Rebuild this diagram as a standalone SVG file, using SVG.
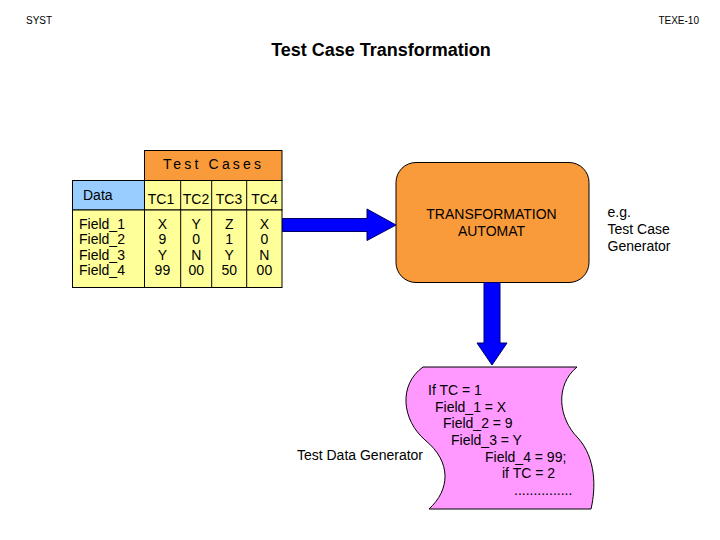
<svg xmlns="http://www.w3.org/2000/svg" width="720" height="540" viewBox="0 0 720 540">
<style>
text{font-family:"Liberation Sans",Arial,sans-serif;fill:#000}
.s{font-size:14px}
.m{text-anchor:middle}
.cell{stroke:#000;stroke-width:1}
.arrow{fill:#0000FF;stroke:#000066;stroke-width:1}
</style>
<rect width="720" height="540" fill="#fff"/>
<text x="26" y="24" font-size="10">SYST</text>
<text x="699" y="24" font-size="10" text-anchor="end">TEXE-10</text>
<text x="381" y="56" font-size="18" font-weight="bold" class="m">Test Case Transformation</text>

<g id="table">
<rect class="cell" x="144.5" y="150.5" width="137.5" height="30" fill="#F99B3B"/>
<rect class="cell" x="72.5" y="180.5" width="72" height="29.5" fill="#99CCFF"/>
<rect class="cell" x="144.5" y="180.5" width="137.5" height="29.5" fill="#FFFF99"/>
<rect class="cell" x="72.5" y="210" width="209.5" height="77.5" fill="#FFFF99"/>
<path class="cell" fill="none" d="M144.5,210V287.5M180.7,180.5V287.5M211.7,180.5V287.5M246.7,180.5V287.5"/>
<text x="163" y="168.7" class="s" letter-spacing="3.2">Test Cases</text>
<text x="83" y="200" class="s">Data</text>
<text x="161" y="204" class="s m">TC1</text>
<text x="196" y="204" class="s m">TC2</text>
<text x="229" y="204" class="s m">TC3</text>
<text x="264.5" y="204" class="s m">TC4</text>
<text x="79" class="s"><tspan y="229">Field_1</tspan><tspan x="79" y="244.4">Field_2</tspan><tspan x="79" y="259.8">Field_3</tspan><tspan x="79" y="275.2">Field_4</tspan></text>
<text class="s m"><tspan x="162.4" y="229">X</tspan><tspan x="162.4" y="244.4">9</tspan><tspan x="162.4" y="259.8">Y</tspan><tspan x="162.4" y="275.2">99</tspan></text>
<text class="s m"><tspan x="196.2" y="229">Y</tspan><tspan x="196.2" y="244.4">0</tspan><tspan x="196.2" y="259.8">N</tspan><tspan x="196.2" y="275.2">00</tspan></text>
<text class="s m"><tspan x="229.2" y="229">Z</tspan><tspan x="229.2" y="244.4">1</tspan><tspan x="229.2" y="259.8">Y</tspan><tspan x="229.2" y="275.2">50</tspan></text>
<text class="s m"><tspan x="264.4" y="229">X</tspan><tspan x="264.4" y="244.4">0</tspan><tspan x="264.4" y="259.8">N</tspan><tspan x="264.4" y="275.2">00</tspan></text>
</g>

<g id="automat">
<rect x="396" y="162.5" width="193" height="120" rx="20" ry="20" fill="#F99B3B" stroke="#000" stroke-width="1"/>
<text class="s m"><tspan x="491.5" y="219">TRANSFORMATION</tspan><tspan x="491.5" y="236">AUTOMAT</tspan></text>
</g>

<g id="generator">
<path d="M423,367 H577 C555,385 558,418 578,438 C596,458 596,488 591,509 H429 C450,490 452,462 425,440 C402,420 398,385 423,367 Z" fill="#FF99FF" stroke="#000" stroke-width="1"/>
<text class="s"><tspan x="428" y="395">If TC = 1</tspan><tspan x="435" y="411.7">Field_1 = X</tspan><tspan x="443" y="428.3">Field_2 = 9</tspan><tspan x="451" y="445">Field_3 = Y</tspan><tspan x="485" y="461.7">Field_4 = 99;</tspan><tspan x="502" y="478.3">if TC = 2</tspan><tspan x="514" y="495">...............</tspan></text>
</g>

<g id="labels">
<text x="423" y="460" class="s" text-anchor="end">Test Data Generator</text>
<text class="s"><tspan x="607.5" y="216.5">e.g.</tspan><tspan x="607.5" y="233.5">Test Case</tspan><tspan x="607.5" y="250.5">Generator</tspan></text>
</g>

<g id="connectors">
<path class="arrow" d="M282.5,218.5 H367 V209 L396,225 L367,240.5 V231.5 H282.5 Z"/>
<path class="arrow" d="M484,282.5 H500 V343 H507 L492,365 L477,343 H484 Z"/>
</g>
</svg>
